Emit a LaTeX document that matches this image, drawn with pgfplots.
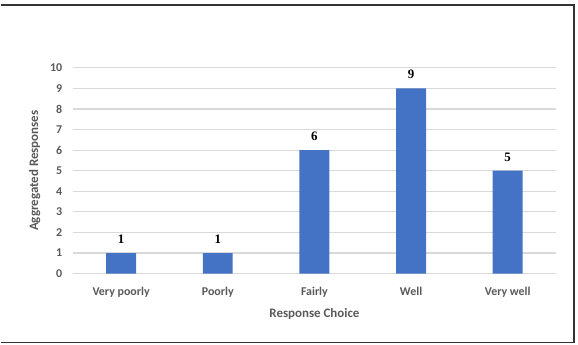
\documentclass[border=0pt]{standalone}
\usepackage{pgfplots}
\pgfplotsset{compat=1.18}
\usepackage{fontspec}
\setmainfont{Carlito}
\newfontfamily\numfont{Liberation Serif}
\definecolor{barblue}{HTML}{4472C4}
\definecolor{gridgray}{HTML}{D9D9D9}
\definecolor{textgray}{HTML}{595959}
\begin{document}
\begin{tikzpicture}
\begin{axis}[
  name=main,
  scale only axis, width=484bp, height=206bp,
  xmin=-0.5, xmax=4.5, ymin=0, ymax=10,
  ytick={0,1,...,10},
  xtick={0,1,2,3,4},
  xticklabels={Very poorly,Poorly,Fairly,Well,Very well},
  axis line style={draw=none},
  major tick length=0pt,
  ymajorgrids, grid style={gridgray, line width=1.2bp},
  ybar, bar width=30bp,
  tick label style={font=\fontsize{12}{13}\selectfont\bfseries, text=textgray},
  /pgf/number format/assume math mode=true,
  xticklabel style={yshift=-10bp},
  yticklabel style={xshift=-7bp},
  xlabel={Response Choice}, ylabel={Aggregated Responses},
  label style={font=\fontsize{13}{14}\selectfont\bfseries, text=textgray},
  xlabel style={yshift=-4bp},
  ylabel style={yshift=3bp},
  nodes near coords,
  every node near coord/.append style={font=\numfont\fontsize{13}{14}\selectfont\bfseries, text=black, yshift=6bp},
]
\addplot[fill=barblue, draw=none] coordinates {(0,1) (1,1) (2,6) (3,9) (4,5)};
\end{axis}
\begin{scope}[shift={(main.south west)}, x=1bp, y=1bp]
\draw[line width=1.8bp, draw=black!80] (-72,269) -- (502,269) -- (502,-69) -- (-72,-69);
\path[use as bounding box] (-72,-71) rectangle (506,274);
\end{scope}
\end{tikzpicture}
\end{document}
